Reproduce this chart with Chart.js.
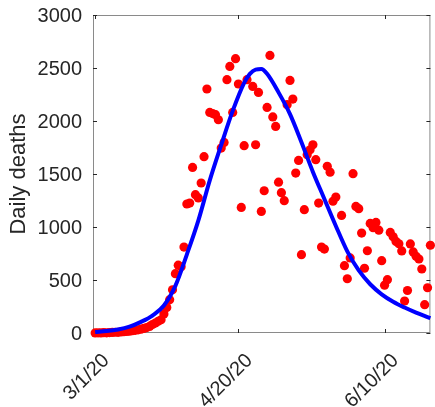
<!DOCTYPE html>
<html>
<head>
<meta charset="utf-8">
<script src="https://cdn.jsdelivr.net/npm/chart.js@4/dist/chart.umd.min.js"></script>
<style>
  html, body { margin: 0; padding: 0; background: #ffffff; }
  #wrap { width: 435px; height: 407px; }
</style>
</head>
<body>
<div id="wrap"><canvas id="c" width="435" height="407"></canvas></div>
<script>
// Daily deaths, one value per day starting 3/1/20 (day 0); null = no visible mark
const dailyDeaths = [
  1, 2, 1, 3, 2, 4, 5, 7, 6, 10,
  12, 14, 17, 21, 25, 30, 36, 43, 51, 62,
  80, 94, 110, 125, 180, 240, 314, 408, 560, 640,
  625, 811, 1217, 1226, 1562, 1305, 1274, 1415, 1663, 2302,
  2081, 2070, 2060, 2012, 1745, 1798, 2390, 2515, 2081, 2588,
  2349, 1185, 1767, 2390, null, 2326, 1776, 2270, 1147, 1342,
  2128, 2619, 2038, 1949, 1423, 1324, 1248, 2154, 2383, 2207,
  1509, 1628, 739, 1163, 1682, 1729, 1776, 1635, 1226, 811,
  792, 1572, 1517, 1243, 1283, null, 1109, 635, 512, 708,
  1503, 1194, 1173, 943, 611, 776, 1034, 993, 1043, 970,
  682, 451, 503, 949, 908, 864, 842, 774, 302, 401,
  840, 765, 723, 698, 604, 267, 427, 828
];

// Fitted epidemic curve, sampled at these days
const fitDays = [0, 4, 8, 12, 16, 20, 24, 28, 32, 36, 40, 44, 48, 52, 54, 56, 58, 60,
                 64, 68, 72, 76, 80, 84, 88, 92, 96, 100, 104, 108, 112, 116, 117];
const fitValues = [10, 18, 33, 60, 105, 165, 260, 445, 740, 1060, 1440, 1775, 2095, 2360, 2445, 2485, 2490, 2445,
                   2270, 2065, 1800, 1520, 1265, 1010, 770, 590, 460, 365, 295, 240, 192, 150, 140];

// Date axis ticks (days since 3/1/20) and their labels
const xTickDays = [0, 50, 101];
const xTickLabels = ['3/1/20', '4/20/20', '6/10/20'];

const yTickStep = 500;
const yMax = 3000;

const FONT = '"Liberation Sans", Arial, Helvetica, sans-serif';
const TEXT = '#262626';

// Box around the axes with inward tick marks on all four sides
const boxFrame = {
  id: 'boxFrame',
  beforeDatasetsDraw(chart) {
    const { ctx, chartArea: a, scales } = chart;
    const x = scales.x, y = scales.y;
    ctx.save();
    ctx.lineWidth = 1;
    ctx.strokeStyle = '#8a8a8a';
    ctx.strokeRect(a.left + 0.5, a.top + 0.5, a.right - a.left - 1, a.bottom - a.top - 1);
    ctx.strokeStyle = '#262626';
    const len = 4;
    ctx.beginPath();
    x.ticks.forEach(t => {
      const px = Math.round(x.getPixelForValue(t.value)) + 0.5;
      ctx.moveTo(px, a.bottom); ctx.lineTo(px, a.bottom - len);
      ctx.moveTo(px, a.top); ctx.lineTo(px, a.top + len);
    });
    y.ticks.forEach(t => {
      const py = Math.round(y.getPixelForValue(t.value)) + 0.5;
      ctx.moveTo(a.left, py); ctx.lineTo(a.left + len, py);
      ctx.moveTo(a.right, py); ctx.lineTo(a.right - len, py);
    });
    ctx.stroke();
    ctx.restore();
  }
};

const deathPoints = [];
dailyDeaths.forEach((v, i) => { if (v !== null) deathPoints.push({ x: i, y: v }); });
const fitPoints = fitDays.map((d, i) => ({ x: d, y: fitValues[i] }));

new Chart(document.getElementById('c'), {
  type: 'scatter',
  data: {
    datasets: [
      {
        type: 'line',
        label: 'Fit',
        data: fitPoints,
        borderColor: '#0000ff',
        borderWidth: 4,
        pointRadius: 0,
        fill: false,
        cubicInterpolationMode: 'monotone',
        order: 0,
        clip: false
      },
      {
        type: 'scatter',
        label: 'Daily deaths',
        data: deathPoints,
        backgroundColor: '#ff0000',
        borderWidth: 0,
        pointRadius: 4.6,
        order: 1,
        clip: false
      }
    ]
  },
  options: {
    responsive: false,
    animation: false,
    devicePixelRatio: 1,
    layout: { padding: { top: 15, right: 1, left: 0, bottom: 0 } },
    plugins: { legend: { display: false }, tooltip: { enabled: false } },
    scales: {
      x: {
        type: 'linear',
        min: -0.75,
        max: 117,
        afterBuildTicks: ax => { ax.ticks = xTickDays.map(v => ({ value: v })); },
        afterFit: s => { s.height = 74; s.paddingLeft = 0; s.paddingRight = 0; },
        grid: { display: false, drawTicks: false },
        border: { display: false },
        ticks: {
          autoSkip: false,
          minRotation: 45,
          maxRotation: 45,
          padding: 16,
          labelOffset: 11,
          color: TEXT,
          font: { family: FONT, size: 20 },
          callback: v => xTickLabels[xTickDays.indexOf(v)]
        }
      },
      y: {
        min: 0,
        max: yMax,
        afterFit: s => { s.width = 93; s.paddingTop = 0; s.paddingBottom = 0; },
        grid: { display: false, drawTicks: false },
        border: { display: false },
        ticks: {
          stepSize: yTickStep,
          padding: 11,
          labelOffset: 1.5,
          color: TEXT,
          font: { family: FONT, size: 20 },
          callback: v => String(v)
        },
        title: {
          display: true,
          text: 'Daily deaths',
          color: TEXT,
          font: { family: FONT, size: 22 },
          padding: { top: 6, bottom: 0 }
        }
      }
    }
  },
  plugins: [boxFrame]
});
</script>
</body>
</html>
